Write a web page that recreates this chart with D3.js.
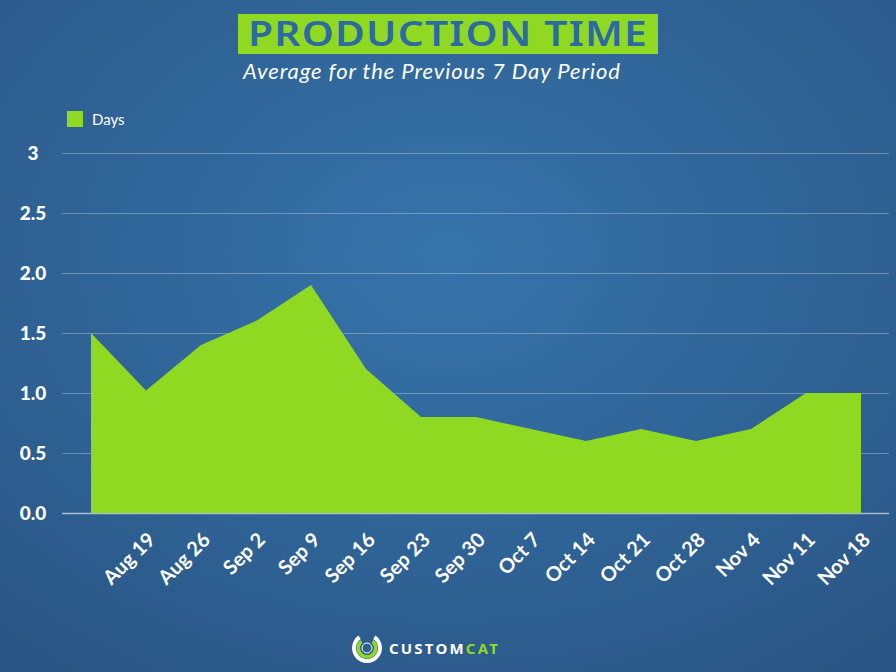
<!DOCTYPE html>
<html>
<head>
<meta charset="utf-8">
<script src="https://cdn.jsdelivr.net/npm/d3@7"></script>
<style>
  body { margin: 0; background: #2d5f92; }
  svg { display: block; font-family: Lato, "Open Sans", sans-serif; }
</style>
</head>
<body>
<svg id="main"></svg>
<script>
var categories = ["Aug 12", "Aug 19", "Aug 26", "Sep 2", "Sep 9", "Sep 16", "Sep 23", "Sep 30",
  "Oct 7", "Oct 14", "Oct 21", "Oct 28", "Nov 4", "Nov 11", "Nov 18"];
var days = [1.5, 1.02, 1.4, 1.6, 1.9, 1.2, 0.8, 0.8, 0.7, 0.6, 0.7, 0.6, 0.7, 1.0, 1.0];
var yTicks = [0, 0.5, 1, 1.5, 2, 2.5, 3];
var yTickLabels = ["0.0", "0.5", "1.0", "1.5", "2.0", "2.5", "3"];

var w = 896;
var h = 672;

var svg = d3.select("#main")
  .attr("width", w)
  .attr("height", h);

// background gradient
var defs = svg.append("defs");
var grad = defs.append("radialGradient")
  .attr("id", "bg")
  .attr("cx", "50%").attr("cy", "38%").attr("r", "75%");
grad.append("stop").attr("offset", "0%").attr("stop-color", "#3674ab");
grad.append("stop").attr("offset", "100%").attr("stop-color", "#2a5686");
svg.append("rect").attr("width", w).attr("height", h).attr("fill", "url(#bg)");

var xScale = d3.scalePoint()
  .domain(categories)
  .range([91, 861]);

var yScale = d3.scaleLinear()
  .domain([0, 3])
  .range([513, 153]);

// grid lines
svg.append("g")
  .selectAll("line")
  .data(yTicks)
  .enter()
  .append("line")
  .attr("x1", 62)
  .attr("x2", 889)
  .attr("y1", function(d) { return yScale(d) + 0.5; })
  .attr("y2", function(d) { return yScale(d) + 0.5; })
  .attr("stroke", function(d) { return d === 0 ? "rgba(255,255,255,0.6)" : "rgba(255,255,255,0.3)"; })
  .attr("stroke-width", function(d) { return d === 0 ? 1.5 : 1; });

// area
var area = d3.area()
  .x(function(d, i) { return xScale(categories[i]); })
  .y0(yScale(0))
  .y1(function(d) { return yScale(d); });

svg.append("path")
  .datum(days)
  .attr("d", area)
  .attr("fill", "#8fd922");

// y axis
var yAxis = d3.axisLeft(yScale)
  .tickValues(yTicks)
  .tickFormat(function(d, i) { return yTickLabels[i]; })
  .tickSize(0);

svg.append("g")
  .attr("transform", "translate(50,0)")
  .call(yAxis)
  .call(function(g) {
    g.select(".domain").remove();
    g.selectAll("text")
      .attr("x", -17)
      .attr("text-anchor", "middle")
      .attr("fill", "#fff")
      .style("font-family", "Lato, sans-serif")
      .style("font-weight", "900")
      .style("font-size", "19px");
  });

// x axis
var xAxis = d3.axisBottom(xScale)
  .tickFormat(function(d, i) { return i === 0 ? "" : d; })
  .tickSize(0);

svg.append("g")
  .attr("transform", "translate(0,513)")
  .call(xAxis)
  .call(function(g) {
    g.select(".domain").remove();
    g.selectAll("text")
      .attr("x", 0)
      .attr("y", 0)
      .attr("dy", 0)
      .attr("text-anchor", "end")
      .attr("transform", "translate(10,28) rotate(-45)")
      .attr("fill", "#fff")
      .style("font-family", "Lato, sans-serif")
      .style("font-weight", "bold")
      .style("font-size", "20px");
  });

// legend
svg.append("rect")
  .attr("x", 67).attr("y", 111)
  .attr("width", 16).attr("height", 16)
  .attr("fill", "#8fd922");
svg.append("text")
  .attr("x", 92).attr("y", 125)
  .attr("fill", "#fff")
  .style("font-size", "15px")
  .text("Days");

// title
svg.append("rect")
  .attr("x", 238).attr("y", 14)
  .attr("width", 420).attr("height", 40)
  .attr("fill", "#8fd922");
svg.append("text")
  .attr("x", 448).attr("y", 46)
  .attr("text-anchor", "middle")
  .attr("fill", "#2c6aa2")
  .attr("textLength", 400)
  .attr("lengthAdjust", "spacingAndGlyphs")
  .style("font-family", "'Noto Sans', sans-serif")
  .style("font-weight", "600")
  .style("font-size", "34px")
  .style("letter-spacing", "1px")
  .text("PRODUCTION TIME");
svg.append("text")
  .attr("x", 243).attr("y", 79)
  .attr("fill", "#fff")
  .attr("textLength", 377)
  .style("font-style", "italic")
  .style("font-size", "22px")
  .text("Average for the Previous 7 Day Period");

// logo
var logo = svg.append("g").attr("transform", "translate(367,648)");
var arc = d3.arc();
logo.append("path")
  .attr("d", arc({innerRadius: 11, outerRadius: 15, startAngle: 0.6, endAngle: 2 * Math.PI - 0.6}))
  .attr("fill", "#fff");
logo.append("path")
  .attr("d", arc({innerRadius: 7, outerRadius: 10.5, startAngle: 0.7, endAngle: 2 * Math.PI - 0.7}))
  .attr("fill", "#8fd922");
logo.append("circle").attr("r", 5).attr("fill", "#2c5f92").attr("stroke", "#fff").attr("stroke-width", 1);
var logoText = svg.append("text")
  .attr("x", 389).attr("y", 654)
  .style("font-family", "'Noto Sans', sans-serif")
  .style("font-weight", "bold")
  .style("font-size", "15px")
  .style("letter-spacing", "2.2px");
logoText.append("tspan").attr("fill", "#fff").text("CUSTOM");
logoText.append("tspan").attr("fill", "#8fd922").text("CAT");
</script>
</body>
</html>
